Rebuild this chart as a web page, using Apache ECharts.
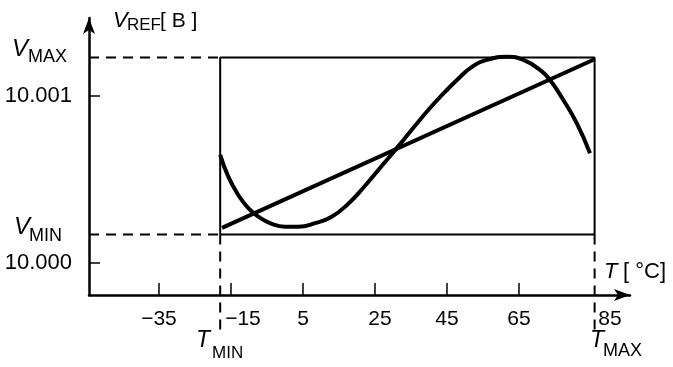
<!DOCTYPE html>
<html>
<head>
<meta charset="utf-8">
<script src="https://cdn.jsdelivr.net/npm/echarts@6/dist/echarts.min.js"></script>
<style>
  html, body { margin: 0; padding: 0; background: #fff; }
  #chart { width: 673px; height: 367px; }
</style>
</head>
<body>
<div id="chart"></div>
<script>
// ---- data ----
const xTickValues = [-35, -15, 5, 25, 45, 65];
const xLabelValues = [-35, -15, 5, 25, 45, 65, 85];
const yTickValues = [10.000, 10.001];

const T_MIN = -18;
const T_MAX = 86;
const V_MIN = 10.00017;
const V_MAX = 10.00123;
const dashBottomV = 9.9996;

// S-shaped (uncompensated) curve
const curveT = [-18.0, -15.75, -12.97, -10.19, -7.42, -3.69, 0.0, 3.69, 8.33, 12.97, 17.5, 21.94, 26.39, 31.11, 35.83, 40.28, 44.44, 48.06, 51.94, 56.11, 61.67, 66.19, 70.83, 73.61, 77.31, 81.03, 84.72];
const curveV = [10.000647, 10.000517, 10.000407, 10.000328, 10.000277, 10.000234, 10.000217, 10.000217, 10.000238, 10.000277, 10.000353, 10.000455, 10.000569, 10.000689, 10.000814, 10.000928, 10.001024, 10.001102, 10.001174, 10.001216, 10.001235, 10.001216, 10.001156, 10.001096, 10.000976, 10.000837, 10.000657];

// straight line (box method)
const lineT = [-17.5, 86];
const lineV = [10.00021, 10.00122];

// axis extents
const xMin = -54.44, xMax = 95.83;
const yMin = 9.999808, yMax = 10.001467;

const FONT = '"Liberation Sans", Arial, Helvetica, sans-serif';
const chart = echarts.init(document.getElementById('chart'), null, { renderer: 'canvas' });

const zip = (a, b) => a.map((v, i) => [v, b[i]]);
const dash = [10, 7];

function minus(v) { return v < 0 ? '\u2212' + Math.abs(v) : String(v); }

function txt(text, x, y, size, italic) {
  return { type: 'text', silent: true, style: {
    text: text, x: x, y: y, fontSize: size, fontFamily: FONT,
    fontStyle: italic ? 'italic' : 'normal', fill: '#000', verticalAlign: 'middle', align: 'left'
  } };
}

const option = {
  animation: false,
  backgroundColor: '#fff',
  grid: { left: 89, right: 43, top: 18, bottom: 72 },
  xAxis: {
    type: 'value', min: xMin, max: xMax,
    splitLine: { show: false },
    axisLine: { onZero: false, lineStyle: { color: '#000', width: 2.5 }, symbol: ['none', 'arrow'], symbolSize: [9, 16] },
    axisTick: { customValues: xTickValues, inside: true, length: 12, lineStyle: { color: '#000', width: 1.5 } },
    axisLabel: {
      customValues: xLabelValues, margin: 14, color: '#000', fontFamily: FONT, fontSize: 21,
      formatter: function (v) {
        if (v === -15) return '{a|' + minus(v) + '}';
        if (v === 85) return '{b|' + minus(v) + '}';
        if (v === 25) return '{c|' + minus(v) + '}';
        return minus(v);
      },
      rich: {
        a: { fontFamily: FONT, fontSize: 21, color: '#000', padding: [0, 0, 0, 24] },
        b: { fontFamily: FONT, fontSize: 21, color: '#000', padding: [0, 0, 0, 38] },
        c: { fontFamily: FONT, fontSize: 21, color: '#000', padding: [0, 0, 0, 10] }
      }
    }
  },
  yAxis: {
    type: 'value', min: yMin, max: yMax,
    splitLine: { show: false },
    axisLine: { onZero: false, lineStyle: { color: '#000', width: 2.5 }, symbol: ['none', 'arrow'], symbolSize: [9, 16] },
    axisTick: { customValues: yTickValues, inside: true, length: 11, lineStyle: { color: '#000', width: 1.5 } },
    axisLabel: {
      customValues: yTickValues, margin: 17, color: '#000', fontFamily: FONT, fontSize: 22,
      formatter: function (v) { return v.toFixed(3); }
    }
  },
  series: [
    { name: 'box', type: 'line', symbol: 'none', silent: true,
      lineStyle: { color: '#000', width: 2 },
      data: [[T_MIN, V_MIN], [T_MAX, V_MIN], [T_MAX, V_MAX], [T_MIN, V_MAX], [T_MIN, V_MIN]] },
    { name: 'vmax', type: 'line', symbol: 'none', silent: true,
      lineStyle: { color: '#000', width: 2, type: dash },
      data: [[xMin, V_MAX], [T_MIN, V_MAX]] },
    { name: 'vmin', type: 'line', symbol: 'none', silent: true,
      lineStyle: { color: '#000', width: 2, type: dash },
      data: [[xMin, V_MIN], [T_MIN, V_MIN]] },
    { name: 'tmin', type: 'line', symbol: 'none', silent: true, clip: false,
      lineStyle: { color: '#000', width: 2, type: dash },
      data: [[T_MIN, V_MIN], [T_MIN, dashBottomV]] },
    { name: 'tmax', type: 'line', symbol: 'none', silent: true, clip: false,
      lineStyle: { color: '#000', width: 2, type: dash },
      data: [[T_MAX, V_MIN], [T_MAX, dashBottomV]] },
    { name: 'curve', type: 'line', symbol: 'none', silent: true, smooth: 0.5,
      lineStyle: { color: '#000', width: 4 },
      data: zip(curveT, curveV) },
    { name: 'line', type: 'line', symbol: 'none', silent: true,
      lineStyle: { color: '#000', width: 4 },
      data: zip(lineT, lineV) }
  ],
  graphic: [
    // V_REF [B]
    txt('V', 113, 21, 22, true),
    txt('REF', 127, 25, 17, false),
    txt('[ B ]', 160, 21, 21, false),
    // V_MAX
    txt('V', 12, 49, 24, true),
    txt('MAX', 28, 57, 18, false),
    // V_MIN
    txt('V', 14, 227, 24, true),
    txt('MIN', 29, 236, 18, false),
    // T [°C]
    txt('T', 604, 272, 22, true),
    txt('[ \u00B0C]', 623, 272, 22, false),
    // T_MIN
    txt('T', 196, 341, 23, true),
    txt('MIN', 212, 353, 17, false),
    // T_MAX
    txt('T', 590, 341, 23, true),
    txt('MAX', 603, 351, 18, false)
  ]
};
chart.setOption(option);
</script>
</body>
</html>
